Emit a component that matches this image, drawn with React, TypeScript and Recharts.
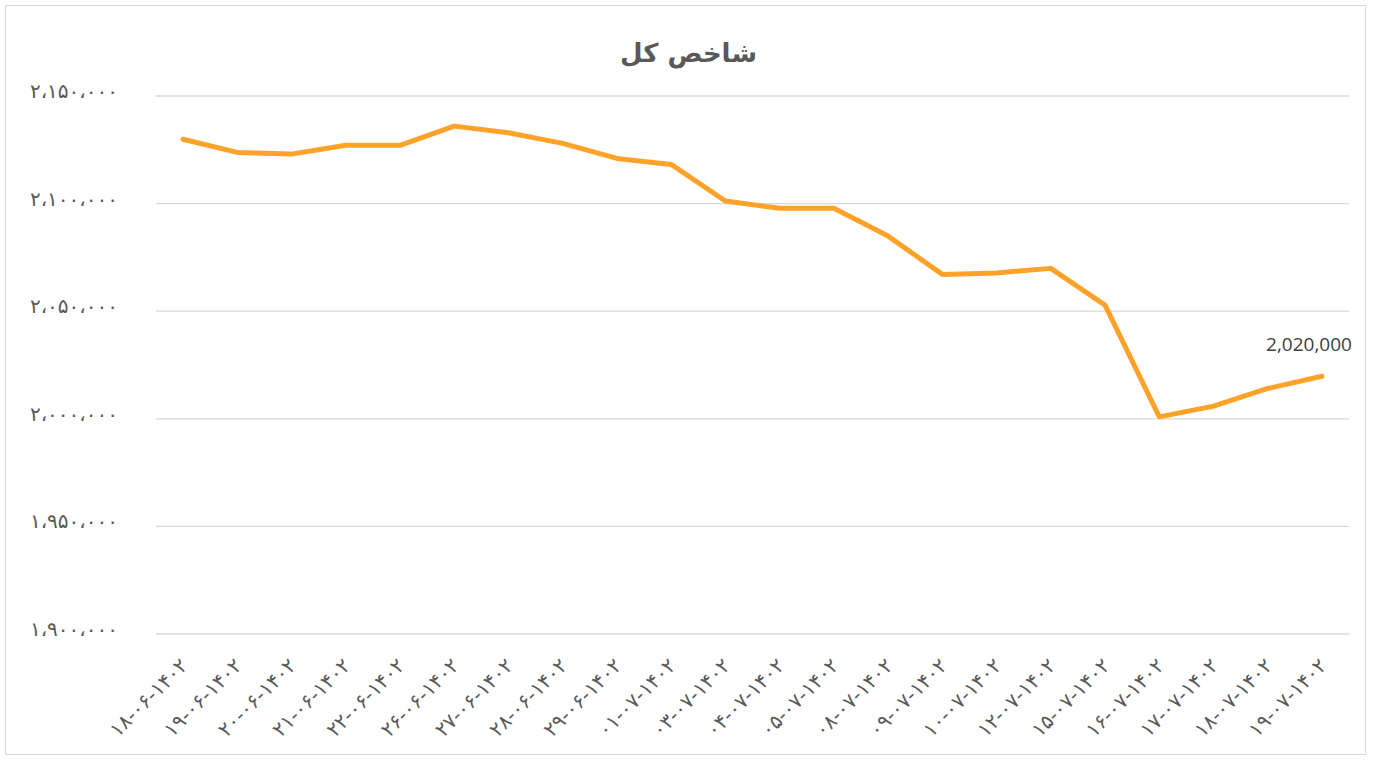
import React from "react";
import { LineChart, Line, XAxis, YAxis, CartesianGrid, LabelList } from "recharts";

const categories: string[] = [
  "۱۸-۰۶-۱۴۰۲",
  "۱۹-۰۶-۱۴۰۲",
  "۲۰-۰۶-۱۴۰۲",
  "۲۱-۰۶-۱۴۰۲",
  "۲۲-۰۶-۱۴۰۲",
  "۲۶-۰۶-۱۴۰۲",
  "۲۷-۰۶-۱۴۰۲",
  "۲۸-۰۶-۱۴۰۲",
  "۲۹-۰۶-۱۴۰۲",
  "۰۱-۰۷-۱۴۰۲",
  "۰۳-۰۷-۱۴۰۲",
  "۰۴-۰۷-۱۴۰۲",
  "۰۵-۰۷-۱۴۰۲",
  "۰۸-۰۷-۱۴۰۲",
  "۰۹-۰۷-۱۴۰۲",
  "۱۰-۰۷-۱۴۰۲",
  "۱۲-۰۷-۱۴۰۲",
  "۱۵-۰۷-۱۴۰۲",
  "۱۶-۰۷-۱۴۰۲",
  "۱۷-۰۷-۱۴۰۲",
  "۱۸-۰۷-۱۴۰۲",
  "۱۹-۰۷-۱۴۰۲",
];

const indexValues: number[] = [
  2129900, 2123800, 2123000, 2127100, 2127100, 2136000, 2132900, 2128000,
  2121000, 2118200, 2101200, 2097800, 2097800, 2084900, 2067100, 2067800,
  2069900, 2052800, 2000900, 2005900, 2014100, 2019800,
];

const yTicks: number[] = [1900000, 1950000, 2000000, 2050000, 2100000, 2150000];
const yTickLabels: string[] = [
  "۱،۹۰۰،۰۰۰",
  "۱،۹۵۰،۰۰۰",
  "۲،۰۰۰،۰۰۰",
  "۲،۰۵۰،۰۰۰",
  "۲،۱۰۰،۰۰۰",
  "۲،۱۵۰،۰۰۰",
];

const lastLabel = "2,020,000";
const title = "شاخص کل";

const data = categories.map((c, i) => ({ date: c, value: indexValues[i] }));

const TEXT = "#595959";

const XTick = (props: any) => {
  const { x, y, payload } = props;
  return (
    <g transform={`translate(${x + 1},${y + 20}) rotate(-45)`}>
      <text
        x={0}
        y={0}
        dy="0.35em"
        textAnchor="end"
        fill={TEXT}
        fontSize={20}
        letterSpacing={0.5}
        fontFamily="DejaVu Sans"
        style={{ direction: "ltr" } as any}
      >
        {payload.value}
      </text>
    </g>
  );
};

const YTick = (props: any) => {
  const { y, payload } = props;
  const idx = yTicks.indexOf(payload.value);
  return (
    <text
      x={118}
      y={y - 5}
      dy="0.35em"
      textAnchor="end"
      fill={TEXT}
      fontSize={20}
      fontFamily="DejaVu Sans"
      style={{ direction: "ltr" } as any}
    >
      {idx >= 0 ? yTickLabels[idx] : ""}
    </text>
  );
};

const LastLabel = (props: any) => {
  const { x, y, index } = props;
  if (index !== indexValues.length - 1) return null;
  return (
    <text
      x={x - 13}
      y={y - 25}
      textAnchor="middle"
      fill="#404040"
      fontSize={19}
      fontFamily="Open Sans"
    >
      {lastLabel}
    </text>
  );
};

export default function App() {
  return (
    <div
      style={{
        position: "absolute",
        left: 0,
        top: 0,
        width: 1373,
        height: 760,
        background: "#ffffff",
      }}
    >
      <div
        style={{
          position: "absolute",
          left: 5,
          top: 5,
          width: 1361,
          height: 750,
          border: "1px solid #d9d9d9",
          boxSizing: "border-box",
        }}
      />
      <div
        style={{
          position: "absolute",
          left: 0,
          top: 38,
          width: 1373,
          textAlign: "center",
          fontFamily: "DejaVu Sans",
          fontWeight: "bold",
          fontSize: 26,
          color: TEXT,
          direction: "rtl",
          paddingLeft: 4,
          boxSizing: "border-box",
        }}
      >
        {title}
      </div>
      <div style={{ position: "absolute", left: 0, top: 0 }}>
        <LineChart
          width={1373}
          height={760}
          data={data}
          margin={{ top: 96, right: 24, bottom: 16, left: 0 }}
        >
          <CartesianGrid vertical={false} stroke="#d9d9d9" strokeWidth={1.3} />
          <XAxis
            dataKey="date"
            axisLine={false}
            tickLine={false}
            height={110}
            interval={0}
            padding={{ left: 27, right: 27 }}
            tick={<XTick />}
          />
          <YAxis
            width={156}
            domain={[1900000, 2150000]}
            ticks={yTicks}
            axisLine={false}
            tickLine={false}
            tick={<YTick />}
            interval={0}
          />
          <Line
            type="linear"
            dataKey="value"
            stroke="#FFA229"
            strokeWidth={5}
            dot={false}
            activeDot={false}
            isAnimationActive={false}
            strokeLinecap="round"
            strokeLinejoin="round"
          >
            <LabelList dataKey="value" content={<LastLabel />} />
          </Line>
        </LineChart>
      </div>
    </div>
  );
}
